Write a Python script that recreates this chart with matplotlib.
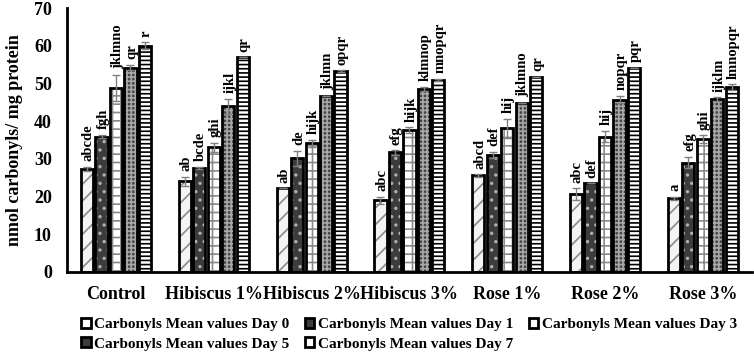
import matplotlib
matplotlib.use('Agg')
import matplotlib.pyplot as plt
from matplotlib.patches import Patch
import numpy as np

groups = ['Control', 'Hibiscus 1%', 'Hibiscus 2%', 'Hibiscus 3%', 'Rose 1%', 'Rose 2%', 'Rose 3%']
series_names = ['Carbonyls Mean values Day 0', 'Carbonyls Mean values Day 1',
                'Carbonyls Mean values Day 3', 'Carbonyls Mean values Day 5',
                'Carbonyls Mean values Day 7']

# mean values per day (one entry per group)
day0 = [27.3, 24.0, 22.2, 19.0, 25.6, 20.7, 19.5]
day1 = [35.9, 27.6, 30.2, 31.7, 31.0, 23.5, 29.0]
day3 = [48.8, 33.0, 34.1, 37.6, 38.1, 35.9, 35.3]
day5 = [54.2, 43.9, 46.7, 48.6, 44.9, 45.7, 45.8]
day7 = [60.0, 56.9, 53.2, 51.0, 51.8, 54.1, 49.0]

# error bars
err0 = [0.6, 1.3, 0.0, 1.0, 0.3, 1.5, 0.5]
err1 = [0.5, 0.3, 2.0, 0.6, 0.8, 0.0, 1.5]
err3 = [3.5, 1.3, 1.0, 0.8, 2.5, 1.5, 1.0]
err5 = [0.7, 2.0, 0.0, 0.5, 0.0, 1.0, 0.5]
err7 = [0.9, 0.0, 0.3, 0.3, 0.0, 0.0, 0.8]

# significance letters
let0 = ['abcde', 'ab', 'ab', 'abc', 'abcd', 'abc', 'a']
let1 = ['fgh', 'bcde', 'de', 'efg', 'def', 'def', 'efg']
let3 = ['jklmno', 'ghi', 'hijk', 'hijk', 'hij', 'hij', 'ghi']
let5 = ['qr', 'ijkl', 'jklmn', 'klmnop', 'jklmno', 'nopqr', 'ijklm']
let7 = ['r', 'qr', 'opqr', 'mnopqr', 'qr', 'pqr', 'lmnopqr']

values = [day0, day1, day3, day5, day7]
errors = [err0, err1, err3, err5, err7]
letters = [let0, let1, let3, let5, let7]

# (face, hatch, hatch colour)
styles = [
    ('#f4f4f4', '//', '#8a8a8a'),
    ('#3c3c3c', '..', '#b0b0b0'),
    ('white', '++', '#8a8a8a'),
    ('#454545', '++++', '#a8a8a8'),
    ('white', '----', 'black'),
]
legend_faces = ['white', '#3c3c3c', 'white', '#3c3c3c', 'white']

plt.rcParams['font.family'] = ['Liberation Serif', 'DejaVu Serif']
plt.rcParams['font.weight'] = 'bold'
plt.rcParams['hatch.linewidth'] = 1.2

fig = plt.figure(figsize=(7.54, 3.64), dpi=100)
ax = fig.add_axes([0.089, 0.253, 0.908, 0.725])

x = np.arange(len(groups))
slot = 0.148
width = 0.125

for i, (vals, errs, labs) in enumerate(zip(values, errors, letters)):
    face, hatch, hcol = styles[i]
    pos = x + (i - 2) * slot
    ax.bar(pos, vals, width, color=face, edgecolor=hcol, hatch=hatch, linewidth=0, zorder=2)
    ax.bar(pos, vals, width, facecolor='none', edgecolor='black', linewidth=2, zorder=3)
    ax.errorbar(pos, vals, yerr=errs, fmt='none', ecolor='#808080', elinewidth=1,
                capsize=3, capthick=1, zorder=4)
    for px, v, e, t in zip(pos, vals, errs, labs):
        ax.annotate(t, (px, v + e), xytext=(1, 4), textcoords='offset points',
                    rotation=90, ha='center', va='bottom', fontsize=10.5, fontweight='bold')

ax.set_xlim(-0.5, 6.5)
ax.set_ylim(0, 70)
ax.set_yticks(np.arange(0, 71, 10))
ax.set_xticks(x)
ax.set_xticklabels(groups, fontsize=13, fontweight='bold')
ax.tick_params(axis='both', length=0, labelsize=13)
ax.tick_params(axis='y', pad=11)
ax.tick_params(axis='x', pad=10)
for lab in ax.get_yticklabels():
    lab.set_fontweight('bold')

for side in ['top', 'right']:
    ax.spines[side].set_visible(False)
for side in ['left', 'bottom']:
    ax.spines[side].set_linewidth(2)

ax.set_ylabel('nmol carbonyls/ mg protein', fontsize=13, fontweight='bold', labelpad=8)

# legend fills column by column, so reorder to get Day 0, 1, 3 on the first row
order = [0, 3, 1, 4, 2]
handles = [Patch(facecolor=legend_faces[k], edgecolor='black', linewidth=2) for k in order]
labels = [series_names[k] for k in order]
fig.legend(handles, labels, loc='upper left', bbox_to_anchor=(0.108, 0.126),
           ncol=3, frameon=False, fontsize=11, handlelength=0.6, handleheight=0.6,
           handletextpad=0.25, columnspacing=1.0, labelspacing=0.4, borderpad=0,
           borderaxespad=0)

fig.savefig('out.png', dpi=100)
